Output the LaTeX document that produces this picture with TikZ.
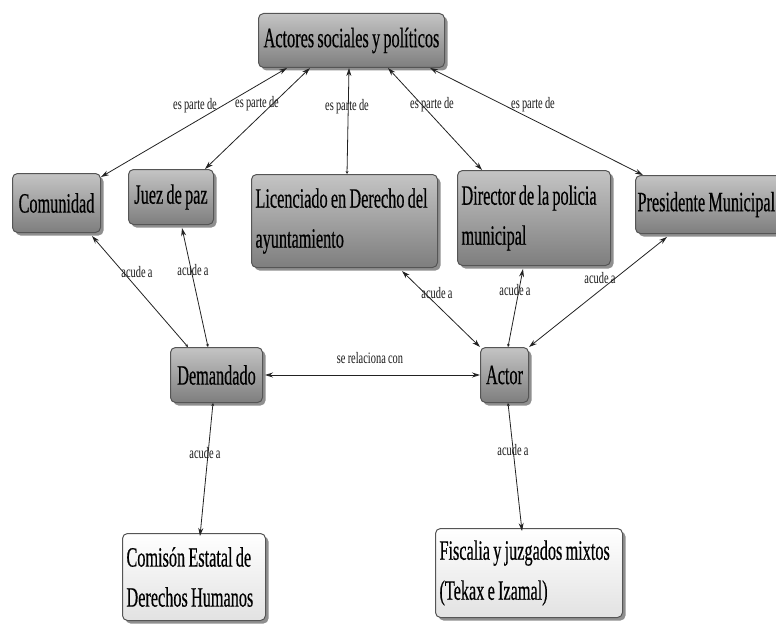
\documentclass[tikz,border=0pt]{standalone}
\usepackage{fontspec}
\setmainfont{Liberation Serif}
\newfontfamily\boxfont[FakeStretch=0.58,WordSpace=0.8,FakeBold=0.4]{Liberation Serif}
\newfontfamily\linkfont[FakeStretch=0.65,WordSpace=0.85]{Liberation Serif}
\usetikzlibrary{arrows.meta,shadows}
\definecolor{boxtop}{HTML}{C4C4C4}
\definecolor{boxbot}{HTML}{7E7E7E}
\definecolor{boxline}{HTML}{555555}
\definecolor{wtop}{HTML}{FFFFFF}
\definecolor{wbot}{HTML}{E2E2E2}
\definecolor{edge}{HTML}{222222}
\newcommand{\lline}[2]{\makebox[#1][l]{#2}}
\tikzset{
  concept/.style={draw=boxline, line width=1pt, rounded corners=5pt,
    top color=boxtop, bottom color=boxbot, anchor=north west,
    inner xsep=4pt, inner ysep=0pt, align=left, text=black,
    font=\boxfont\fontsize{28}{40}\selectfont,
    drop shadow={shadow xshift=3pt, shadow yshift=-3pt, fill=black!55, opacity=0.8}},
  lightconcept/.style={concept, top color=wtop, bottom color=wbot},
  linkword/.style={font=\linkfont\fontsize{16}{18}\selectfont, inner sep=0pt, text=black!90},
  conn/.style={draw=edge, line width=0.8pt},
  big/.tip={Stealth[length=8pt,width=5pt]},
  small/.tip={Stealth[length=3pt,width=3pt]},
}
\begin{document}
\begin{tikzpicture}[x=1pt,y=-1pt]
\useasboundingbox (0,0) rectangle (776,626);
% concepts (top-left corner placement, explicit sizes)
\node[concept, minimum width=186pt, minimum height=54pt] (actores) at (258,13) {Actores sociales y políticos};
\node[concept, minimum width=88pt, minimum height=59pt] (comunidad) at (12,173) {Comunidad};
\node[concept, minimum width=85pt, minimum height=55pt] (juez) at (128,169) {Juez de paz};
\node[concept, minimum width=186pt, minimum height=93pt] (lic) at (251,174) {\lline{178pt}{Licenciado en Derecho del}\\\lline{178pt}{ayuntamiento}};
\node[concept, minimum width=153pt, minimum height=95pt] (dir) at (457,170) {\lline{145pt}{Director de la policia}\\\lline{145pt}{municipal}};
\node[concept, minimum width=170pt, minimum height=58pt, inner xsep=2pt] (pres) at (635,175) {\lline{166pt}{Presidente Municipal}};
\node[concept, minimum width=92pt, minimum height=55pt] (dem) at (170,347) {Demandado};
\node[concept, minimum width=48pt, minimum height=55pt] (actor) at (480,347) {Actor};
\node[lightconcept, minimum width=143pt, minimum height=87pt] (com) at (122,533) {\lline{135pt}{Comisón Estatal de}\\\lline{135pt}{Derechos Humanos}};
\node[lightconcept, minimum width=187pt, minimum height=89pt] (fis) at (435,528) {\lline{179pt}{Fiscalia y juzgados mixtos}\\\lline{179pt}{(Tekax e Izamal)}};
% es parte de
\draw[conn, big-big] ([xshift=29pt]actores.south west) -- ([yshift=-4pt]comunidad.north east);
\draw[conn, big-big] ([xshift=52pt]actores.south west) -- ([xshift=77pt]juez.north west);
\draw[conn, big-small] ([xshift=91pt]actores.south west) -- ([xshift=96pt]lic.north west);
\draw[conn, big-big] ([xshift=130pt]actores.south west) -- ([xshift=25pt]dir.north west);
\draw[conn, big-big] ([xshift=172pt]actores.south west) -- ([xshift=8pt]pres.north west);
% acude a (upper)
\draw[conn, big-small] ([xshift=80pt,yshift=-3pt]comunidad.south west) -- ([xshift=18pt]dem.north west);
\draw[conn, big-small] ([xshift=54pt,yshift=-3pt]juez.south west) -- ([xshift=38pt]dem.north west);
\draw[conn, big-big] ([xshift=151pt,yshift=-3pt]lic.south west) -- (actor.north west);
\draw[conn, big-small] ([xshift=66pt,yshift=-3pt]dir.south west) -- ([xshift=28pt]actor.north west);
\draw[conn, big-big] ([xshift=32pt,yshift=-3pt]pres.south west) -- (actor.north east);
% se relaciona con
\draw[conn, big-big] ([xshift=2pt]dem.east) -- (actor.west);
% acude a (lower)
\draw[conn, small-big] ([xshift=43pt]dem.south west) -- ([xshift=78pt,yshift=-3pt]com.north west);
\draw[conn, small-big] ([xshift=28pt]actor.south west) -- ([xshift=87pt,yshift=-3pt]fis.north west);
% linking words
\node[linkword] (l1) at (195,106) {es parte de};
\node[linkword] (l2) at (257,104) {es parte de};
\node[linkword] (l3) at (347,107) {es parte de};
\node[linkword] (l4) at (432,105) {es parte de};
\node[linkword] (l5) at (533,105) {es parte de};
\node[linkword] (a1) at (137,272) {acude a};
\node[linkword] (a2) at (193,270) {acude a};
\node[linkword] (a3) at (437,293) {acude a};
\node[linkword] (a4) at (515,290) {acude a};
\node[linkword] (a5) at (600,278) {acude a};
\node[linkword] (a6) at (205,453) {acude a};
\node[linkword] (a7) at (513,450) {acude a};
\node[linkword] (rel) at (370,358) {se relaciona con};
\end{tikzpicture}
\end{document}
